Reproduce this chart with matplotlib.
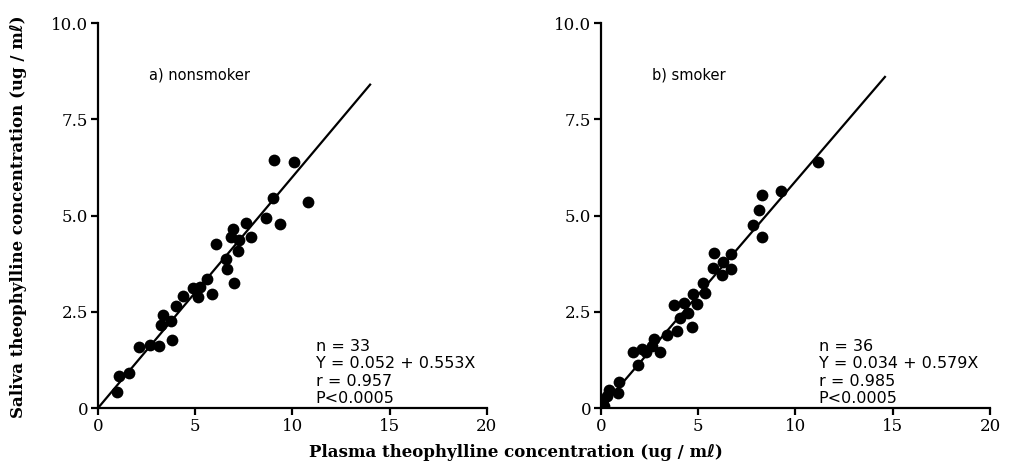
import matplotlib
matplotlib.use("Agg")
import matplotlib.pyplot as plt
import numpy as np

# nonsmoker (a)
ns_plasma = [0.96, 1.08, 1.60, 2.13, 2.68, 3.14, 3.79, 3.24, 3.76, 3.33, 4.02,
             4.39, 4.91, 5.12, 5.25, 5.61, 5.89, 6.06, 6.59, 6.63, 7.02, 6.83,
             6.92, 7.19, 7.26, 7.60, 7.88, 8.63, 9.00, 9.34, 9.03, 10.10, 10.80]
ns_saliva = [0.42, 0.83, 0.90, 1.59, 1.64, 1.61, 1.77, 2.16, 2.26, 2.42, 2.66,
             2.92, 3.11, 2.89, 3.15, 3.34, 2.95, 4.26, 3.87, 3.60, 3.25, 4.43,
             4.65, 4.09, 4.36, 4.80, 4.45, 4.94, 5.46, 4.78, 6.44, 6.38, 5.34]
ns_line_x = [0.0, 14.0]
ns_line_y = [0.0, 8.4]
ns_stats = "n = 33\nY = 0.052 + 0.553X\nr = 0.957\nP<0.0005"

# smoker (b)
sm_plasma = [0.12, 0.30, 0.40, 0.89, 0.95, 0.15, 1.66, 1.92, 2.09, 2.30, 2.60,
             2.75, 3.05, 3.38, 3.92, 4.06, 4.66, 4.46, 3.77, 4.27, 4.95, 4.75,
             5.35, 5.26, 5.74, 6.20, 6.29, 6.67, 5.83, 6.68, 7.80, 8.26, 8.12,
             8.29, 9.24, 11.17]
sm_saliva = [0.21, 0.32, 0.47, 0.38, 0.68, 0.05, 1.46, 1.12, 1.52, 1.45, 1.60,
             1.80, 1.46, 1.90, 2.00, 2.33, 2.11, 2.46, 2.68, 2.72, 2.70, 2.95,
             2.99, 3.24, 3.63, 3.45, 3.80, 3.61, 4.02, 4.00, 4.75, 4.43, 5.14,
             5.53, 5.64, 6.40]
sm_line_x = [0.0, 14.6]
sm_line_y = [0.0, 8.6]
sm_stats = "n = 36\nY = 0.034 + 0.579X\nr = 0.985\nP<0.0005"

x_ticks = [0, 5, 10, 15, 20]
y_ticks = [0, 2.5, 5.0, 7.5, 10.0]
y_ticklabels = ["0", "2.5", "5.0", "7.5", "10.0"]

fig = plt.figure(figsize=(10.21, 4.67), dpi=100)
ax1 = fig.add_axes([0.096, 0.1263, 0.3807, 0.8244])
ax2 = fig.add_axes([0.5886, 0.1263, 0.381, 0.8244])

panels = [
    (ax1, ns_plasma, ns_saliva, ns_line_x, ns_line_y, "a) nonsmoker", ns_stats),
    (ax2, sm_plasma, sm_saliva, sm_line_x, sm_line_y, "b) smoker", sm_stats),
]

for ax, px, sy, lx, ly, title, stats in panels:
    ax.scatter(px, sy, s=72, color="black", zorder=3, linewidths=0)
    ax.plot(lx, ly, color="black", lw=1.6, zorder=2)
    ax.set_xlim(0, 20)
    ax.set_ylim(0, 10)
    ax.spines["top"].set_visible(False)
    ax.spines["right"].set_visible(False)
    for s in ("left", "bottom"):
        ax.spines[s].set_linewidth(1.6)
    ax.set_xticks(x_ticks)
    ax.set_xticklabels([str(t) for t in x_ticks])
    ax.set_yticks(y_ticks)
    ax.set_yticklabels(y_ticklabels)
    ax.tick_params(direction="out", length=5, width=1.6, labelsize=12, pad=2)
    for lab in ax.get_xticklabels() + ax.get_yticklabels():
        lab.set_family("DejaVu Serif")
    ax.text(2.6, 8.65, title, fontsize=10.5, family="DejaVu Sans", va="center")
    ax.text(11.2, 1.80, stats, fontsize=11.5, family="DejaVu Sans", va="top",
            linespacing=1.2)
    ax.patch.set_alpha(0)

label_fam = ["DejaVu Serif", "DejaVu Sans"]
fig.text(0.018, 0.535, "Saliva theophylline concentration (ug / mℓ)", rotation=90,
         ha="center", va="center", fontsize=12, fontweight="heavy",
         family=label_fam)
fig.text(0.505, 0.032, "Plasma theophylline concentration (ug / mℓ)",
         ha="center", va="center", fontsize=12, fontweight="heavy",
         family=label_fam)

fig.savefig("out.png", dpi=100)
